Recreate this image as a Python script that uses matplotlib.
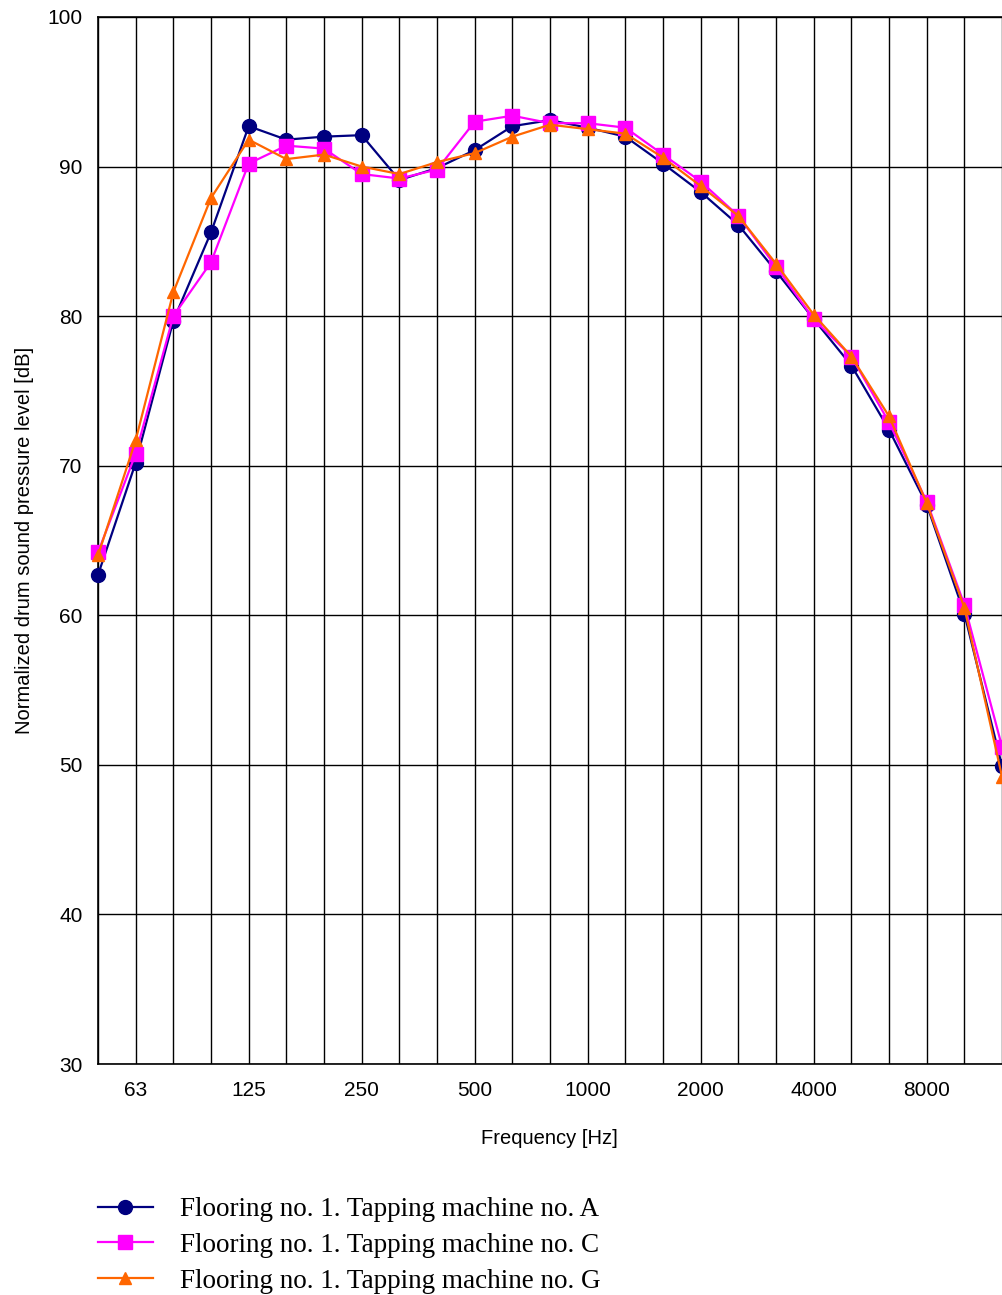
import matplotlib
matplotlib.use("Agg")
import matplotlib.pyplot as plt
import numpy as np

# 1/3 octave bands
bands = [50, 63, 80, 100, 125, 160, 200, 250, 315, 400, 500, 630, 800,
         1000, 1250, 1600, 2000, 2500, 3150, 4000, 5000, 6300, 8000, 10000, 12500]
tick_bands = [63, 125, 250, 500, 1000, 2000, 4000, 8000]

machine_a = [62.7, 70.2, 79.7, 85.6, 92.7, 91.8, 92.0, 92.1, 89.1, 89.9, 91.1, 92.7,
             93.1, 92.6, 92.0, 90.2, 88.3, 86.1, 83.0, 79.8, 76.7, 72.4, 67.4, 60.1, 49.9]
machine_c = [64.2, 70.8, 80.0, 83.6, 90.2, 91.4, 91.2, 89.5, 89.2, 89.8, 93.0, 93.4,
             92.9, 92.9, 92.6, 90.8, 89.0, 86.7, 83.3, 79.8, 77.3, 72.9, 67.6, 60.7, 51.2]
machine_g = [64.0, 71.7, 81.6, 87.9, 91.8, 90.5, 90.8, 90.0, 89.5, 90.3, 90.9, 92.0,
             92.8, 92.5, 92.2, 90.6, 88.7, 86.7, 83.5, 80.1, 77.3, 73.3, 67.5, 60.5, 49.2]

labels = ["Flooring no. 1. Tapping machine no. A",
          "Flooring no. 1. Tapping machine no. C",
          "Flooring no. 1. Tapping machine no. G"]

plt.rcParams['font.family'] = ['Liberation Sans', 'DejaVu Sans']

W, H = 1002, 1295
fig = plt.figure(figsize=(W / 100, H / 100), dpi=100)
step = 37.67
ax = fig.add_axes([98 / W, 1 - 1064 / H, 25 * step / W, (1064 - 17) / H])

x = np.arange(len(bands))
ax.plot(x, machine_a, color='#000080', marker='o', markersize=10, lw=1.6,
        label=labels[0], zorder=3, clip_on=False)
ax.plot(x, machine_c, color='#FF00FF', marker='s', markersize=10, lw=1.6,
        label=labels[1], zorder=4, clip_on=False)
ax.plot(x, machine_g, color='#FF6600', marker='^', markersize=8.5, lw=1.6,
        label=labels[2], zorder=5, clip_on=False)

ax.set_xlim(0, 25)
ax.set_ylim(30, 100)
ax.set_yticks(np.arange(30, 101, 10))
ax.set_xticks(x, minor=True)
ax.set_xticks([bands.index(b) for b in tick_bands])
ax.set_xticklabels([str(b) for b in tick_bands])
ax.grid(True, which='both', axis='x', color='black', lw=1)
ax.grid(True, which='major', axis='y', color='black', lw=1)
ax.tick_params(which='both', length=0, labelsize=15)
ax.tick_params(axis='x', pad=12)
ax.tick_params(axis='y', pad=11)
for s in ax.spines.values():
    s.set_color('black')
    s.set_linewidth(1.2)

ax.set_xlabel('Frequency [Hz]', fontsize=14.5)
ax.xaxis.set_label_coords((549 - 98) / (25 * step), -0.062)
ax.set_ylabel('Normalized drum sound pressure level [dB]', fontsize=14.5, labelpad=10)

fig.legend(loc='upper left', bbox_to_anchor=(74 / W, 1 - 1173 / H),
           frameon=False, handlelength=2.0, handletextpad=1.0, labelspacing=0.39,
           prop={'family': 'Liberation Serif', 'size': 19.5})

fig.savefig('out.png', dpi=100)
